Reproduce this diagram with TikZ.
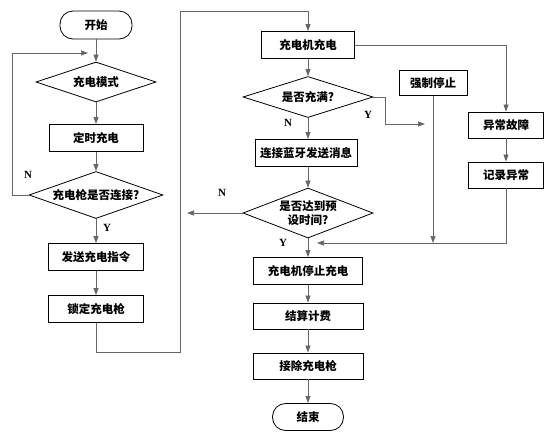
\documentclass[tikz,border=0pt]{standalone}
\usepackage{fontspec}
\setmainfont{Liberation Serif}
\newfontfamily\cjk{Noto Sans CJK SC}
\usetikzlibrary{shapes.geometric,arrows.meta}
\tikzset{every path/.style={black!60,line width=0.7pt}, every node/.style={black,inner sep=0pt,font=\cjk\bfseries\fontsize{11.5}{13.5}\selectfont}}
\tikzset{box/.style={draw=black,line width=0.8pt,rectangle,minimum height=27pt}, dia/.style={draw=black,line width=0.8pt,diamond,aspect=2.6}, term/.style={draw=black,line width=0.8pt,rounded corners=13pt,minimum height=28pt,minimum width=72pt}, yn/.style={font=\bfseries\fontsize{11}{13}\selectfont}, arr/.style={-{Triangle[length=7pt,width=5pt]}}}

\begin{document}
\begin{tikzpicture}[x=1pt,y=-1pt]
  \useasboundingbox (0,0) rectangle (555,432);
  \node[term] (a) at (96,25) {开始};
  \node[dia,minimum width=120pt,minimum height=40pt] (b) at (96,82) {充电模式};
  \node[box,minimum width=94pt] (c) at (96,138) {定时充电};
  \node[dia,minimum width=134pt,minimum height=47pt] (d) at (96,195) {充电枪是否连接?};
  \node[box,minimum width=95pt] (e) at (96,257) {发送充电指令};
  \node[box,minimum width=95pt] (f) at (96,309) {锁定充电枪};

  \node[box,minimum width=93pt] (g) at (308,45) {充电机充电};
  \node[dia,minimum width=130pt,minimum height=41pt] (h) at (308,97) {是否充满?};
  \node[box,minimum width=102pt] (i) at (306,153) {连接蓝牙发送消息};
  \node[dia,minimum width=130pt,minimum height=50pt,align=center] (j) at (308,213) {是否达到预\\设时间?};
  \node[box,minimum width=109pt] (k) at (308,271) {充电机停止充电};
  \node[box,minimum width=110pt,minimum height=26pt] (l) at (308,316) {结算计费};
  \node[box,minimum width=110pt,minimum height=26pt] (m) at (308,366) {接除充电枪};
  \node[term,minimum width=71pt,minimum height=27pt] (n) at (308,417) {结束};

  \node[box,minimum width=68pt,minimum height=25pt] (o) at (433,83) {强制停止};
  \node[box,minimum width=75pt,minimum height=26pt] (p) at (506,125) {异常故障};
  \node[box,minimum width=75pt,minimum height=26pt] (q) at (506,175) {记录异常};

  \coordinate (u) at (12,53);
  \coordinate (ua) at (88,53);
  \coordinate (w1) at (180,352);
  \coordinate (w2) at (180,11);
  \coordinate (y1) at (385,124);
  \coordinate (y2) at (425,124);
  \coordinate (x1) at (187,213);
  \coordinate (z) at (317,243);

  \node[yn] (dn) at (28,175) {N};
  \node[yn] (dy) at (107,228) {Y};
  \node[yn] (hn) at (288,123) {N};
  \node[yn] (hy) at (368,115) {Y};
  \node[yn] (jn) at (222,193) {N};
  \node[yn] (jy) at (283,243) {Y};

  \draw[arr] (a) -- (b);
  \draw[arr] (b) -- (c);
  \draw[arr] (c) -- (d);
  \draw[arr] (d.west) -| (u) -- (ua);
  \draw[arr] (d) -- (e);
  \draw[arr] (e) -- (f);
  \draw[arr] (f.south) |- (w1) -- (w2) -| (g.north);

  \draw[arr] (g) -- (h);
  \draw[arr] (g.east) -| (p.north);
  \draw[arr] (h.east) -| (y1) -- (y2);
  \draw[arr] (h.south) -- (h.south |- i.north);
  \draw[arr] (i.south -| j.north) -- (j.north);
  \draw[arr] (j.west) -- (x1);
  \draw[arr] (j) -- (k);
  \draw[arr] (k) -- (l);
  \draw[arr] (l) -- (m);
  \draw[arr] (m) -- (n);

  \draw[arr] (p) -- (q);
  \draw[arr] (o.south) -- (o.south |- z);
  \draw[arr] (q.south) |- (z);
 \end{tikzpicture}
\end{document}
